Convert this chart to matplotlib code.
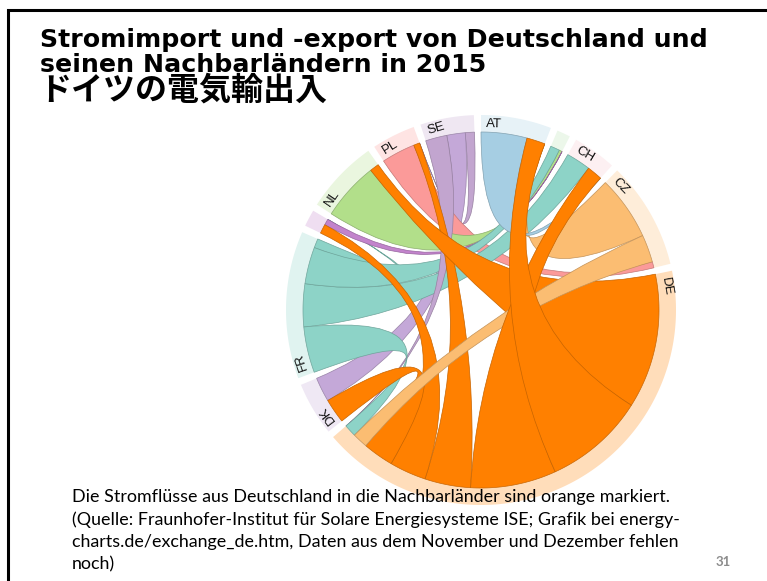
import numpy as np
import matplotlib.pyplot as plt
from matplotlib.path import Path
from matplotlib.patches import PathPatch
from matplotlib.colors import to_rgb

# countries around the circle, clockwise from the top
countries = ['AT', 'BE', 'CH', 'CZ', 'DE', 'DK', 'FR', 'LU', 'NL', 'PL', 'SE']
labels = ['AT', '', 'CH', 'CZ', 'DE', 'DK', 'FR', '', 'NL', 'PL', 'SE']
colors = ['#a6cee3', '#b9e3b0', '#f9c6cf', '#fbbd72', '#ff8000', '#c4a8d8',
          '#8dd3c7', '#c283cc', '#b2df8a', '#fb9a99', '#c2a5cf']

# flows (exporter -> importer)
exporter = ['AT', 'AT', 'BE', 'BE', 'CH', 'CH', 'CZ', 'CZ', 'CZ',
            'DE', 'DE', 'DE', 'DE', 'DE', 'DE', 'DE', 'DE',
            'DK', 'DK', 'FR', 'FR', 'FR', 'FR', 'LU', 'LU',
            'NL', 'NL', 'PL', 'PL', 'SE', 'SE', 'SE']
importer = ['CH', 'DE', 'FR', 'NL', 'FR', 'DE', 'AT', 'DE', 'PL',
            'NL', 'AT', 'CH', 'PL', 'LU', 'DK', 'CZ', 'FR',
            'DE', 'SE', 'DE', 'CH', 'BE', 'LU', 'DE', 'BE',
            'BE', 'DE', 'CZ', 'DE', 'DE', 'DK', 'PL']
twh = [15, 6, 3, 1, 8, 5, 21, 9, 2,
       44, 33, 28, 15, 12, 10, 5, 4,
       8, 8, 15, 14, 12, 3, 3, 2,
       19, 3, 11, 2, 7, 6, 3]

title_lines = ['Stromimport und -export von Deutschland und',
               'seinen Nachbarländern in 2015']
title_jp = 'ドイツの電気輸出入'
caption = ['Die Stromflüsse aus Deutschland in die Nachbarländer sind orange markiert.',
           '(Quelle: Fraunhofer-Institut für Solare Energiesysteme ISE; Grafik bei energy-',
           'charts.de/exchange_de.htm, Daten aus dem November und Dezember fehlen',
           'noch)']
page = '31'

W, H = 767, 581
fig = plt.figure(figsize=(W / 100, H / 100), dpi=100)
ax = fig.add_axes([0, 0, 1, 1])
ax.set_xlim(0, W)
ax.set_ylim(H, 0)
ax.axis('off')

# slide frame
ax.plot([8, 8, W], [H, 9.5, 9.5], color='black', lw=2.2, solid_joinstyle='miter')

# chord layout (like d3.chord with descending subgroups)
n = len(countries)
idx = {c: i for i, c in enumerate(countries)}
m = np.zeros((n, n))
for s, t, v in zip(exporter, importer, twh):
    m[idx[s], idx[t]] = v

cx, cy, r_in, r_out = 481, 310, 178, 195
pad = np.radians(2.1)
k = (2 * np.pi - pad * n) / m.sum()

groups, sub = [], {}
a = 0.0
for i in range(n):
    a_start = a
    for j in sorted(range(n), key=lambda j: -m[i, j]):
        sub[(i, j)] = (a, a + m[i, j] * k)
        a += m[i, j] * k
    groups.append((a_start, a))
    a += pad


def pt(theta, r):
    return (cx + r * np.sin(theta), cy - r * np.cos(theta))


def arc(a0, a1, r):
    num = max(2, int(np.degrees(abs(a1 - a0))) + 2)
    return [pt(t, r) for t in np.linspace(a0, a1, num)]


# outer bands
for (a0, a1), c in zip(groups, colors):
    verts = arc(a0, a1, r_out) + arc(a1, a0, r_in)
    band_col = 1 - 0.27 * (1 - np.array(to_rgb(c)))
    ax.add_patch(plt.Polygon(verts, closed=True, facecolor=band_col,
                             edgecolor='none', zorder=1))

# ribbons, coloured by the bigger side
chords = []
for i in range(n):
    for j in range(i + 1, n):
        if m[i, j] or m[j, i]:
            src, dst = (i, j) if m[i, j] >= m[j, i] else (j, i)
            chords.append((src, dst))
chords = chords[::-1]
de = idx['DE']
chords = [c for c in chords if de not in c] + [c for c in chords if de in c]

for src, dst in chords:
    s0, s1 = sub[(src, dst)]
    t0, t1 = sub[(dst, src)]
    verts = arc(s0, s1, r_in)
    codes = [Path.MOVETO] + [Path.LINETO] * (len(verts) - 1)
    verts += [(cx, cy), pt(t0, r_in)]
    codes += [Path.CURVE3, Path.CURVE3]
    tv = arc(t0, t1, r_in)[1:]
    verts += tv
    codes += [Path.LINETO] * len(tv)
    verts += [(cx, cy), pt(s0, r_in), pt(s0, r_in)]
    codes += [Path.CURVE3, Path.CURVE3, Path.CLOSEPOLY]
    col = np.array(to_rgb(colors[src]))
    ax.add_patch(PathPatch(Path(verts, codes), facecolor=col,
                           edgecolor=col * 0.78, lw=0.5, zorder=2))

# country labels along the band
for (a0, a1), lab in zip(groups, labels):
    if not lab:
        continue
    th = a0 + np.radians(1.6)
    x, y = pt(th, (r_in + r_out) / 2)
    ax.text(x, y, lab, rotation=-np.degrees(th), rotation_mode='anchor',
            ha='left', va='center', fontsize=9.5, color='#111111',
            family='Liberation Sans', zorder=3)

# texts
renderer = fig.canvas.get_renderer()


def fit(t, width):
    w = t.get_window_extent(renderer).width
    t.set_fontsize(t.get_fontsize() * width / w)
    return t.get_fontsize()


t1 = ax.text(40, 47, title_lines[0], fontsize=18, fontweight='bold',
             family='DejaVu Sans', va='baseline', color='black')
fs = fit(t1, 670)
ax.text(40, 72, title_lines[1], fontsize=fs, fontweight='bold',
        family='DejaVu Sans', va='baseline', color='black')
ax.text(39, 100, title_jp, fontsize=23, fontweight='bold',
        family=['Noto Sans CJK JP', 'DejaVu Sans'], va='baseline', color='black')

c1 = ax.text(72, 502, caption[0], fontsize=11.5, family='Lato',
             va='baseline', color='black', zorder=4)
cfs = fit(c1, 596)
for line, yb in zip(caption[1:], [525, 547, 569]):
    ax.text(72, yb, line, fontsize=cfs, family='Lato', va='baseline',
            color='black', zorder=4)

ax.text(723, 566, page, fontsize=9.5, family='Lato', fontweight='bold',
        ha='center', va='baseline', color='#8c8c8c')

fig.savefig('out.png', dpi=100)
